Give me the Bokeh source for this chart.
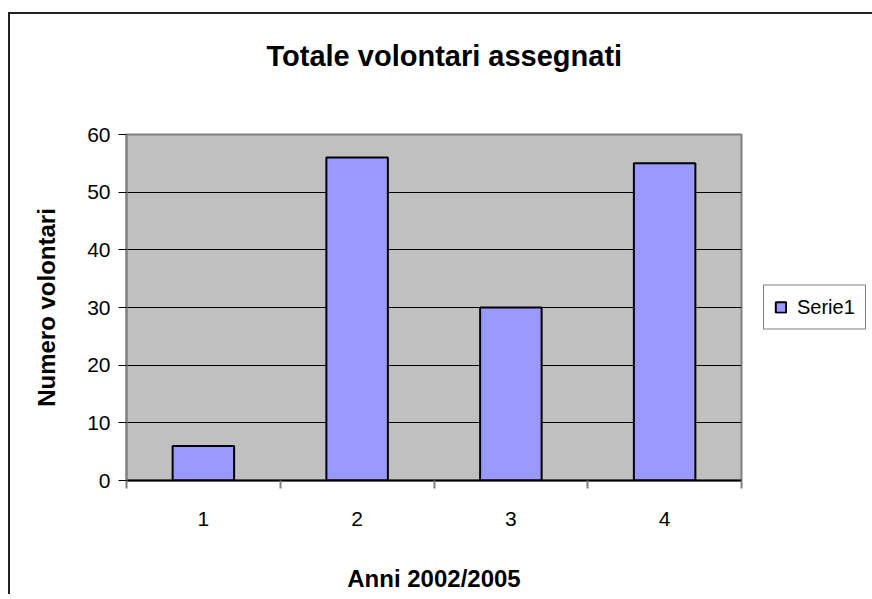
from bokeh.plotting import figure
from bokeh.models import (ColumnDataSource, FixedTicker, Legend, LegendItem, Range1d, Title)
from bokeh.embed import file_html
from bokeh.resources import INLINE

# ---- data ----
categories = [1, 2, 3, 4]
tick_labels = ["1", "2", "3", "4"]
values = [6, 56, 30, 55]
series_name = "Serie1"
title_text = "Totale volontari assegnati"
x_title = "Anni 2002/2005"
y_title = "Numero volontari"
y_ticks = [0, 10, 20, 30, 40, 50, 60]

FONT = "Liberation Sans"

source = ColumnDataSource(data=dict(x=categories, top=values))

p = figure(title=None, frame_width=615, frame_height=346,
           min_border_left=116, min_border_top=120,
           min_border_right=123, min_border_bottom=111,
           x_range=Range1d(0.5, 4.5), y_range=Range1d(0, 60),
           output_backend="svg", toolbar_location=None,
           background_fill_color="#C0C0C0", border_fill_color="white")

# outer chart border (only left and top edges visible in the window)
p.styles = {
    "border-left": "2px solid #222222",
    "border-top": "2px solid #222222",
    "margin-left": "8px",
    "margin-top": "12px",
}

r = p.vbar(x="x", top="top", width=0.4, source=source,
           fill_color="#9999FF", line_color="black", line_width=2)

# title (spacer keeps the title high above the plot area)
spacer = Title(text=" ", text_font=FONT, text_font_size="10px", standoff=45)
main_title = Title(text=title_text, align="left", offset=140, standoff=10,
                   text_font=FONT, text_font_size="29px",
                   text_font_style="bold", text_color="black")
p.add_layout(spacer, "above")
p.add_layout(main_title, "above")

# outline
p.outline_line_color = "#808080"
p.outline_line_width = 2

# grids
p.xgrid.visible = False
p.ygrid.ticker = FixedTicker(ticks=y_ticks)
p.ygrid.grid_line_color = "black"
p.ygrid.grid_line_width = 1

# y axis
p.yaxis.ticker = FixedTicker(ticks=y_ticks)
p.yaxis.axis_line_color = "#808080"
p.yaxis.axis_line_width = 2
p.yaxis.major_tick_in = 0
p.yaxis.major_tick_out = 8
p.yaxis.major_tick_line_color = "black"
p.yaxis.minor_tick_line_color = None
p.yaxis.major_label_standoff = 8
p.yaxis.major_label_text_font = FONT
p.yaxis.major_label_text_font_size = "21px"
p.yaxis.major_label_text_color = "black"
p.yaxis.axis_label = y_title
p.yaxis.axis_label_text_font = FONT
p.yaxis.axis_label_text_font_size = "24px"
p.yaxis.axis_label_text_font_style = "bold"
p.yaxis.axis_label_text_color = "black"
p.yaxis.axis_label_standoff = 24

# x axis: labels at centres, tick marks at category boundaries
p.xaxis.ticker = FixedTicker(ticks=categories,
                             minor_ticks=[c - 0.5 for c in categories] + [categories[-1] + 0.5])
p.xaxis.major_label_overrides = {c: t for c, t in zip(categories, tick_labels)}
p.xaxis.axis_line_color = "black"
p.xaxis.axis_line_width = 2
p.xaxis.major_tick_in = 0
p.xaxis.major_tick_out = 0
p.xaxis.minor_tick_in = 0
p.xaxis.minor_tick_out = 8
p.xaxis.minor_tick_line_color = "#808080"
p.xaxis.minor_tick_line_width = 2
p.xaxis.major_label_standoff = 23
p.xaxis.major_label_text_font = FONT
p.xaxis.major_label_text_font_size = "21px"
p.xaxis.major_label_text_color = "black"
p.xaxis.axis_label = x_title
p.xaxis.axis_label_text_font = FONT
p.xaxis.axis_label_text_font_size = "24px"
p.xaxis.axis_label_text_font_style = "bold"
p.xaxis.axis_label_text_color = "black"
p.xaxis.axis_label_standoff = 36

# legend
legend = Legend(items=[LegendItem(label=series_name, renderers=[r])],
                location="left", margin=22, padding=10,
                border_line_color="black", border_line_width=1,
                background_fill_color="white", background_fill_alpha=1,
                glyph_width=13, glyph_height=13, label_standoff=10,
                label_text_font=FONT, label_text_font_size="20px",
                label_text_color="black")
p.add_layout(legend, "right")

open("out.html", "w").write(file_html(p, INLINE))
